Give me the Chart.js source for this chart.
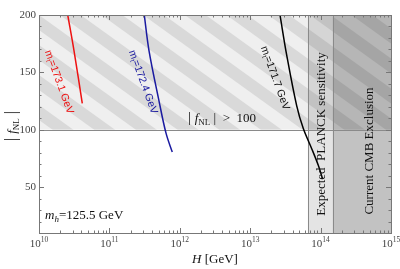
<!DOCTYPE html>
<html><head><meta charset="utf-8">
<script src="https://cdn.jsdelivr.net/npm/chart.js@4"></script>
<style>html,body{margin:0;padding:0;background:#fff}#wrap{width:400px;height:269px}</style>
</head><body><div id="wrap"><canvas id="c" width="400" height="269"></canvas></div>
<script>
// Curves: Hubble scale H [GeV] vs |f_NL|
const H_RED   = [2.56e10, 3.14e10, 4.12e10];
const F_RED   = [200, 169, 123];
const H_BLUE  = [3.13e11, 3.65e11, 5.07e11, 6.37e11, 7.82e11];
const F_BLUE  = [200, 169, 125, 97, 80.5];
const H_BLACK = [2.65e13, 3.30e13, 4.57e13, 5.68e13, 7.48e13, 9.27e13, 1.07e14];
const F_BLACK = [200, 165, 121, 101, 83.5, 69, 57];
const SERIES_LABELS = ["173.1", "172.4", "171.7"];
// Regions
const FNL_BOUND = 100;                 // |f_NL| > 100 hatched
const PLANCK_BAND = [6.6e13, 1.48e14]; // expected PLANCK sensitivity
const CMB_BAND = [1.48e14, 1e15];      // current CMB exclusion
// Axes
const X_MIN = 1e10, X_MAX = 1e15, Y_MIN = 10, Y_MAX = 200;
const X_EXPONENTS = [10, 11, 12, 13, 14, 15];
const Y_TICKS = [50, 100, 150, 200];
const Y_MINOR_STEP = 10;

const pts = (xs, ys) => xs.map((x, i) => ({x, y: ys[i]}));
const SERIF = '"Liberation Serif", "DejaVu Serif", serif';
const SANS = '"Liberation Sans", Arial, sans-serif';

function drawSubText(ctx, parts, x, y, align) {
  let w = 0;
  parts.forEach(p => { ctx.font = p[1]; w += ctx.measureText(p[0]).width; });
  let cx = align === 'center' ? x - w / 2 : (align === 'right' ? x - w : x);
  ctx.textAlign = 'left';
  parts.forEach(p => { ctx.font = p[1]; ctx.fillText(p[0], cx, y + (p[2] || 0)); cx += ctx.measureText(p[0]).width; });
}

const bgPlugin = {
  id: 'bg',
  beforeDatasetsDraw(chart) {
    const {ctx, chartArea: a, scales: {x, y}} = chart;
    ctx.save();
    ctx.beginPath(); ctx.rect(a.left, a.top, a.right - a.left, a.bottom - a.top); ctx.clip();
    const p0 = x.getPixelForValue(PLANCK_BAND[0]), p1 = x.getPixelForValue(PLANCK_BAND[1]);
    const c0 = x.getPixelForValue(CMB_BAND[0]), c1 = x.getPixelForValue(CMB_BAND[1]);
    ctx.fillStyle = '#e4e4e4'; ctx.fillRect(p0, a.top, p1 - p0, a.bottom - a.top);
    ctx.fillStyle = '#c2c2c2'; ctx.fillRect(c0, a.top, c1 - c0, a.bottom - a.top);
    const yb = y.getPixelForValue(FNL_BOUND), yt = y.getPixelForValue(Y_MAX);
    ctx.save();
    ctx.beginPath(); ctx.rect(a.left, yt, a.right - a.left, yb - yt); ctx.clip();
    ctx.globalCompositeOperation = 'multiply';
    ctx.fillStyle = '#efefef'; ctx.fillRect(a.left, yt, a.right - a.left, yb - yt);
    ctx.fillStyle = '#e8e8e8';
    const slope = 0.72, period = 30, half = period / 2;
    for (let k = -30; k < 30; k++) {
      const off = k * period;
      ctx.beginPath();
      ctx.moveTo(a.left - 200, yt + off + slope * (-200));
      ctx.lineTo(a.right + 200, yt + off + slope * (a.right - a.left + 200));
      ctx.lineTo(a.right + 200, yt + off + half + slope * (a.right - a.left + 200));
      ctx.lineTo(a.left - 200, yt + off + half + slope * (-200));
      ctx.closePath(); ctx.fill();
    }
    ctx.restore();
    ctx.strokeStyle = '#8a8a8a'; ctx.lineWidth = 1;
    ctx.beginPath();
    ctx.moveTo(a.left, Math.round(yb) + 0.5); ctx.lineTo(a.right, Math.round(yb) + 0.5);
    ctx.moveTo(Math.round(p0) + 0.5, a.top); ctx.lineTo(Math.round(p0) + 0.5, a.bottom);
    ctx.moveTo(Math.round(c0) + 0.5, a.top); ctx.lineTo(Math.round(c0) + 0.5, a.bottom);
    ctx.stroke();
    ctx.restore();
  },
  afterDatasetsDraw(chart) {
    const {ctx, chartArea: a, scales: {x, y}} = chart;
    ctx.save();
    ctx.strokeStyle = '#777'; ctx.lineWidth = 1;
    ctx.strokeRect(Math.round(a.left) + 0.5, Math.round(a.top) + 0.5, Math.round(a.right - a.left), Math.round(a.bottom - a.top));
    ctx.beginPath();
    for (let e = X_EXPONENTS[0]; e <= X_EXPONENTS[X_EXPONENTS.length - 1]; e++) {
      for (let m = 1; m <= 9; m++) {
        const v = m * Math.pow(10, e);
        if (v < X_MIN || v > X_MAX) continue;
        const px = Math.round(x.getPixelForValue(v)) + 0.5;
        const len = m === 1 ? 5 : 2.5;
        ctx.moveTo(px, a.bottom); ctx.lineTo(px, a.bottom - len);
        ctx.moveTo(px, a.top); ctx.lineTo(px, a.top + len);
      }
    }
    for (let v = Y_MIN; v <= Y_MAX; v += Y_MINOR_STEP) {
      const py = Math.round(y.getPixelForValue(v)) + 0.5;
      const len = Y_TICKS.includes(v) ? 5 : 2.5;
      ctx.moveTo(a.left, py); ctx.lineTo(a.left + len, py);
      ctx.moveTo(a.right, py); ctx.lineTo(a.right - len, py);
    }
    ctx.stroke();
    ctx.fillStyle = '#444';
    ctx.textBaseline = 'middle';
    Y_TICKS.forEach(v => {
      ctx.font = '11px ' + SERIF; ctx.textAlign = 'right';
      ctx.fillText(String(v), a.left - 3, y.getPixelForValue(v));
    });
    ctx.textBaseline = 'alphabetic';
    X_EXPONENTS.forEach(e => {
      const px = x.getPixelForValue(Math.pow(10, e));
      drawSubText(ctx, [['10', '11px ' + SERIF, 0], [String(e), '7.5px ' + SERIF, -5]], px, a.bottom + 14, 'center');
    });
    ctx.fillStyle = '#111';
    drawSubText(ctx, [['H', 'italic 13px ' + SERIF, 0], [' [GeV]', '13px ' + SERIF, 0]], (a.left + a.right) / 2, 263, 'center');
    ctx.save();
    ctx.translate(12, (a.top + a.bottom) / 2 + 2);
    ctx.rotate(-Math.PI / 2);
    drawSubText(ctx, [['| ', '16px ' + SERIF, 0], ['f', 'italic 13px ' + SERIF, 0], ['NL', '9px ' + SERIF, 3], [' |', '16px ' + SERIF, 0]], 0, 4, 'center');
    ctx.restore();
    ctx.fillStyle = '#111';
    drawSubText(ctx, [['| ', '15px ' + SERIF, 0], ['f', 'italic 13px ' + SERIF, 0], ['NL', '9px ' + SERIF, 3], [' |  >  100', '13px ' + SERIF, 0]], 222, 122, 'center');
    drawSubText(ctx, [['m', 'italic 13px ' + SERIF, 0], ['h', 'italic 9px ' + SERIF, 3], ['=125.5 GeV', '13px ' + SERIF, 0]], 45, 219, 'left');
    const pm = (x.getPixelForValue(PLANCK_BAND[0]) + x.getPixelForValue(PLANCK_BAND[1])) / 2;
    const cm = (x.getPixelForValue(CMB_BAND[0]) + x.getPixelForValue(CMB_BAND[1])) / 2;
    [[pm + 1, 134, 'Expected  PLANCK sensitivity'], [cm + 8, 151, 'Current CMB Exclusion']].forEach(([tx, ty, s]) => {
      ctx.save(); ctx.translate(tx, ty); ctx.rotate(-Math.PI / 2);
      ctx.font = '13px ' + SERIF; ctx.textAlign = 'center'; ctx.textBaseline = 'middle';
      ctx.fillText(s, 0, 0); ctx.restore();
    });
    const lab = [[59, 82, '#ee1111', SERIES_LABELS[0]], [143, 82, '#1a1aa0', SERIES_LABELS[1]], [275, 78, '#111', SERIES_LABELS[2]]];
    lab.forEach(([tx, ty, col, s]) => {
      ctx.save(); ctx.translate(tx, ty); ctx.rotate(70 * Math.PI / 180);
      ctx.fillStyle = col; ctx.textBaseline = 'middle';
      drawSubText(ctx, [['m', '10.5px ' + SANS, 0], ['t', '7px ' + SANS, 3], ['=' + s + ' GeV', '10.5px ' + SANS, 0]], 0, 0, 'center');
      ctx.restore();
    });
    ctx.restore();
  }
};

new Chart(document.getElementById('c'), {
  type: 'scatter',
  data: {
    datasets: [
      {data: pts(H_RED, F_RED), borderColor: '#ee1111'},
      {data: pts(H_BLUE, F_BLUE), borderColor: '#1a1aa0'},
      {data: pts(H_BLACK, F_BLACK), borderColor: '#000'}
    ].map(d => Object.assign(d, {showLine: true, pointRadius: 0, borderWidth: 1.5, tension: 0.35}))
  },
  options: {
    responsive: false, animation: false, devicePixelRatio: 1,
    layout: {padding: {left: 39, right: 9, top: 15, bottom: 36}},
    plugins: {legend: {display: false}, tooltip: {enabled: false}},
    scales: {
      x: {type: 'logarithmic', min: X_MIN, max: X_MAX, ticks: {display: false}, grid: {display: false}, border: {display: false}, afterFit(s) { s.height = 0; }},
      y: {type: 'linear', min: Y_MIN, max: Y_MAX, ticks: {display: false}, grid: {display: false}, border: {display: false}, afterFit(s) { s.width = 0; }}
    }
  },
  plugins: [bgPlugin]
});
</script></body></html>
